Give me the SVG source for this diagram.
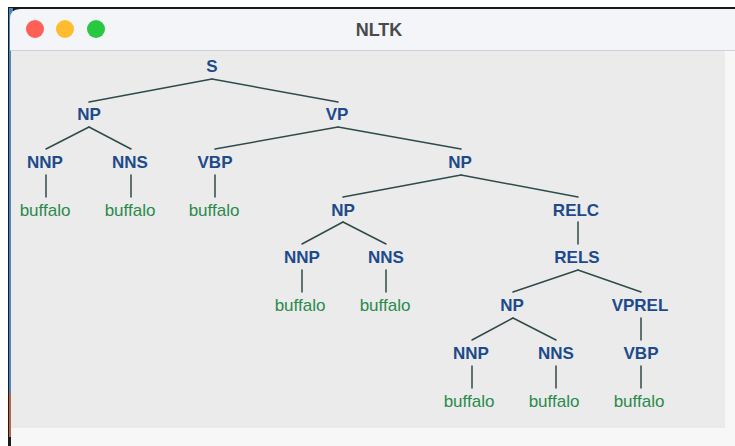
<svg xmlns="http://www.w3.org/2000/svg" width="735" height="446" viewBox="0 0 735 446">
  <style>
    .lbl { font-family: "Liberation Sans", Arial, sans-serif; font-size: 17px; font-weight: bold; fill: #1d4a8a; text-anchor: middle; }
    .leaf { font-family: "Liberation Sans", Arial, sans-serif; font-size: 17px; fill: #2a8a4c; text-anchor: middle; }
    .title { font-family: "Liberation Sans", Arial, sans-serif; font-size: 18px; font-weight: bold; fill: #4a4a4a; text-anchor: middle; }
    #edges line { stroke: #2f4a4a; stroke-width: 1.5; stroke-linecap: round; }
  </style>

  <!-- page backdrop and window frame -->
  <rect x="0" y="0" width="735" height="446" fill="#ffffff"/>
  <rect x="8" y="7" width="727" height="439" fill="#1a1a1a"/>
  <!-- desktop strip visible at the left edge -->
  <rect x="9" y="8" width="4" height="385" fill="#4a86c0"/>
  <rect x="9" y="393" width="4" height="44" fill="#b5654a"/>
  <!-- title bar -->
  <path d="M 20 9 H 735 V 50 H 10 V 19 Q 10 9 20 9 Z" fill="#f3f5f8"/>
  <line x1="10" y1="50.5" x2="735" y2="50.5" stroke="#cfd1d4" stroke-width="1"/>
  <!-- content area -->
  <rect x="11" y="51" width="714" height="376" fill="#ebebeb"/>
  <rect x="725" y="51" width="10" height="395" fill="#f7f7f7"/>
  <rect x="11" y="427" width="714" height="19" fill="#f7f7f7"/>
  <line x1="11" y1="427" x2="725" y2="427" stroke="#e2e2e2" stroke-width="1"/>

  <!-- window buttons -->
  <circle cx="35" cy="29" r="9" fill="#fe5f57"/>
  <circle cx="65" cy="29" r="9" fill="#febc2e"/>
  <circle cx="96" cy="29" r="9" fill="#28c840"/>
  <text class="title" x="379" y="35.5">NLTK</text>

  <!-- tree edges -->
  <g id="edges">
    <line x1="212" y1="79" x2="89" y2="102"/>
    <line x1="212" y1="79" x2="338" y2="102"/>
    <line x1="89" y1="127" x2="46" y2="149"/>
    <line x1="89" y1="127" x2="131" y2="149"/>
    <line x1="338" y1="127" x2="215" y2="149"/>
    <line x1="338" y1="127" x2="461" y2="149"/>
    <line x1="46" y1="175" x2="46" y2="197"/>
    <line x1="131" y1="175" x2="131" y2="197"/>
    <line x1="215" y1="175" x2="215" y2="197"/>
    <line x1="461" y1="175" x2="343" y2="197"/>
    <line x1="461" y1="175" x2="578" y2="197"/>
    <line x1="343" y1="222" x2="302" y2="244"/>
    <line x1="343" y1="222" x2="386" y2="244"/>
    <line x1="578" y1="222" x2="578" y2="244"/>
    <line x1="302" y1="270" x2="302" y2="292"/>
    <line x1="386" y1="270" x2="386" y2="292"/>
    <line x1="578" y1="270" x2="513" y2="292"/>
    <line x1="578" y1="270" x2="641" y2="292"/>
    <line x1="513" y1="318" x2="472" y2="340"/>
    <line x1="513" y1="318" x2="556" y2="340"/>
    <line x1="641" y1="318" x2="641" y2="340"/>
    <line x1="472" y1="366" x2="472" y2="388"/>
    <line x1="556" y1="366" x2="556" y2="388"/>
    <line x1="641" y1="366" x2="641" y2="388"/>
  </g>

  <!-- tree nodes -->
  <g id="n-S"><text class="lbl" x="212" y="72">S</text></g>
  <g id="n-NP1"><text class="lbl" x="89" y="120">NP</text></g>
  <g id="n-VP"><text class="lbl" x="337" y="120">VP</text></g>
  <g id="n-NNP1"><text class="lbl" x="45" y="168">NNP</text></g>
  <g id="n-NNS1"><text class="lbl" x="130" y="168">NNS</text></g>
  <g id="n-VBP1"><text class="lbl" x="215" y="168">VBP</text></g>
  <g id="n-NP2"><text class="lbl" x="460" y="168">NP</text></g>
  <g id="n-w1"><text class="leaf" x="45" y="216">buffalo</text></g>
  <g id="n-w2"><text class="leaf" x="130" y="216">buffalo</text></g>
  <g id="n-w3"><text class="leaf" x="214" y="216">buffalo</text></g>
  <g id="n-NP3"><text class="lbl" x="343" y="216">NP</text></g>
  <g id="n-RELC"><text class="lbl" x="576" y="216">RELC</text></g>
  <g id="n-NNP2"><text class="lbl" x="302" y="263">NNP</text></g>
  <g id="n-NNS2"><text class="lbl" x="386" y="263">NNS</text></g>
  <g id="n-RELS"><text class="lbl" x="577" y="263">RELS</text></g>
  <g id="n-w4"><text class="leaf" x="300" y="311">buffalo</text></g>
  <g id="n-w5"><text class="leaf" x="385" y="311">buffalo</text></g>
  <g id="n-NP4"><text class="lbl" x="512" y="311">NP</text></g>
  <g id="n-VPREL"><text class="lbl" x="640" y="311">VPREL</text></g>
  <g id="n-NNP3"><text class="lbl" x="471" y="359">NNP</text></g>
  <g id="n-NNS3"><text class="lbl" x="556" y="359">NNS</text></g>
  <g id="n-VBP2"><text class="lbl" x="641" y="359">VBP</text></g>
  <g id="n-w6"><text class="leaf" x="469" y="407">buffalo</text></g>
  <g id="n-w7"><text class="leaf" x="554" y="407">buffalo</text></g>
  <g id="n-w8"><text class="leaf" x="639" y="407">buffalo</text></g>
</svg>
